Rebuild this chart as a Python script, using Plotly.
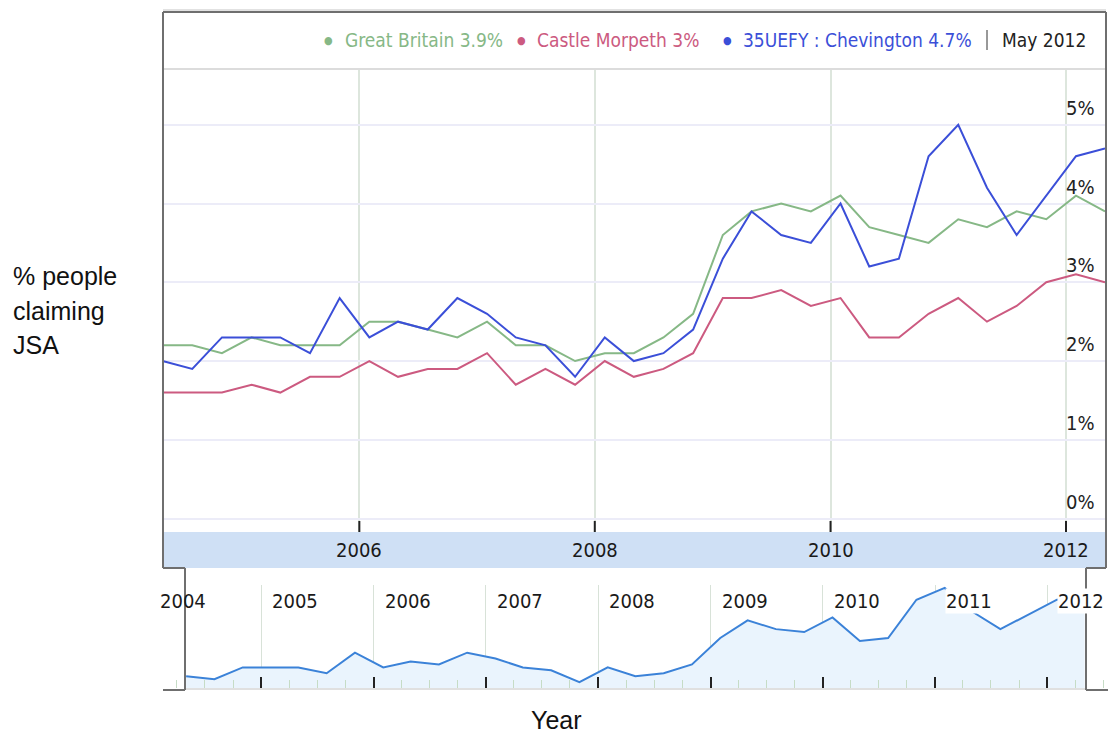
import pandas as pd
import plotly.graph_objects as go

W, H = 1108, 733

# Quarterly observations (Feb / May / Aug / Nov), May 2004 - May 2012
dates = pd.date_range("2004-05-01", "2012-05-01", freq="3MS")

great_britain = [2.2, 2.2, 2.1, 2.3, 2.2, 2.2, 2.2, 2.5, 2.5, 2.4, 2.3, 2.5, 2.2,
                 2.2, 2.0, 2.1, 2.1, 2.3, 2.6, 3.6, 3.9, 4.0, 3.9, 4.1, 3.7, 3.6,
                 3.5, 3.8, 3.7, 3.9, 3.8, 4.1, 3.9]
castle_morpeth = [1.6, 1.6, 1.6, 1.7, 1.6, 1.8, 1.8, 2.0, 1.8, 1.9, 1.9, 2.1, 1.7,
                  1.9, 1.7, 2.0, 1.8, 1.9, 2.1, 2.8, 2.8, 2.9, 2.7, 2.8, 2.3, 2.3,
                  2.6, 2.8, 2.5, 2.7, 3.0, 3.1, 3.0]
chevington = [2.0, 1.9, 2.3, 2.3, 2.3, 2.1, 2.8, 2.3, 2.5, 2.4, 2.8, 2.6, 2.3,
              2.2, 1.8, 2.3, 2.0, 2.1, 2.4, 3.3, 3.9, 3.6, 3.5, 4.0, 3.2, 3.3,
              4.6, 5.0, 4.2, 3.6, 4.1, 4.6, 4.7]

series_names = ["Great Britain", "Castle Morpeth", "35UEFY : Chevington"]
series_values = [great_britain, castle_morpeth, chevington]
series_colors = ["#86b886", "#cc5a80", "#3b4fd8"]

y_ticks = [0, 1, 2, 3, 4, 5]
main_year_ticks = ["2006", "2008", "2010", "2012"]
nav_year_ticks = ["2004", "2005", "2006", "2007", "2008", "2009", "2010", "2011", "2012"]

FONT = "DejaVu Sans Condensed, Liberation Sans Narrow, DejaVu Sans, sans-serif"
NAV_RANGE = ["2004-02-06", "2012-07-16"]


def px(x):
    return x / W


def py(y):
    return 1 - y / H


def nav_frac(d):
    t0, t1 = pd.Timestamp(NAV_RANGE[0]), pd.Timestamp(NAV_RANGE[1])
    return (pd.Timestamp(d) - t0) / (t1 - t0)


fig = go.Figure()

for name, vals, col in zip(series_names, series_values, series_colors):
    fig.add_trace(go.Scatter(x=dates, y=vals, mode="lines", name=name,
                             line=dict(color=col, width=2),
                             xaxis="x", yaxis="y", hoverinfo="skip"))

# overview strip (Chevington only)
fig.add_trace(go.Scatter(x=dates, y=chevington, mode="lines", fill="tozeroy",
                         fillcolor="#eaf4fd", line=dict(color="#3b82d8", width=2),
                         xaxis="x2", yaxis="y2", hoverinfo="skip"))

fig.update_layout(
    width=W, height=H,
    margin=dict(l=0, r=0, t=0, b=0),
    paper_bgcolor="white", plot_bgcolor="white",
    showlegend=False,
    xaxis=dict(domain=[px(162.6), px(1105)], range=["2004-05-01", "2012-05-01"],
               showgrid=True, gridcolor="#dde6dd", gridwidth=2,
               tick0="2006-01-01", dtick="M24", showticklabels=False,
               ticks="", zeroline=False, showline=False, fixedrange=True),
    yaxis=dict(domain=[py(532), py(68)], range=[-0.17, 5.72],
               tickvals=y_ticks, showgrid=True, gridcolor="#ececf8", gridwidth=2,
               showticklabels=False, zeroline=False, showline=False, fixedrange=True),
    xaxis2=dict(domain=[px(160), 1.0], range=NAV_RANGE, anchor="y2",
                showgrid=True, gridcolor="#d8e2d8", gridwidth=1,
                tick0="2004-01-01", dtick="M12", ticks="inside", ticklen=11,
                tickwidth=2, tickcolor="#222", showticklabels=False,
                minor=dict(dtick="M3", ticks="inside", ticklen=8, tickwidth=1,
                           tickcolor="#c6dcc6", showgrid=False),
                zeroline=False, showline=False, fixedrange=True),
    yaxis2=dict(domain=[py(688), py(585)], range=[1.6, 5.1], anchor="x2",
                showgrid=False, showticklabels=False, zeroline=False,
                showline=False, fixedrange=True),
)

FRAME = "#6f6f6f"
shapes = [
    # band holding the year labels
    dict(type="rect", xref="paper", yref="paper", x0=px(163), x1=px(1106),
         y0=py(568), y1=py(532), fillcolor="#cfe0f5", line=dict(width=0)),
    # header separator and shadow
    dict(type="line", xref="paper", yref="paper", x0=px(163), x1=px(1106),
         y0=py(69), y1=py(69), line=dict(color="#dcdcdc", width=2)),
    dict(type="line", xref="paper", yref="paper", x0=px(163), x1=px(1106),
         y0=py(10), y1=py(10), line=dict(color="#e2e2e2", width=2)),
    # overview bottom line
    dict(type="line", xref="paper", yref="paper", x0=px(185), x1=px(1086),
         y0=py(689), y1=py(689), line=dict(color="#e0e0e0", width=2)),
]
frame_segments = [
    ((163, 12), (1106, 12)), ((163, 12), (163, 568)), ((1106, 12), (1106, 568)),
    ((163, 568), (185, 568)), ((185, 568), (185, 690)), ((163, 690), (185, 690)),
    ((1086, 568), (1106, 568)), ((1086, 568), (1086, 690)), ((1086, 690), (1108, 690)),
]
for (xa, ya), (xb, yb) in frame_segments:
    shapes.append(dict(type="line", xref="paper", yref="paper",
                       x0=px(xa), x1=px(xb), y0=py(ya), y1=py(yb),
                       line=dict(color=FRAME, width=2)))
# tick marks above the band
for yr in main_year_ticks:
    shapes.append(dict(type="line", xref="x", yref="paper", x0=f"{yr}-01-01",
                       x1=f"{yr}-01-01", y0=py(532), y1=py(521),
                       line=dict(color="#222", width=2)))
# legend separator bar
shapes.append(dict(type="line", xref="paper", yref="paper", x0=px(987), x1=px(987),
                   y0=py(50), y1=py(30), line=dict(color="#333", width=1)))
fig.update_layout(shapes=shapes)

ann = []
# header legend with latest values
legend_x = [(328, 343), (521, 535), (727, 741)]
for (bx, tx), name, vals, col in zip(legend_x, series_names, series_values, series_colors):
    ann.append(dict(xref="paper", yref="paper", x=px(bx), y=py(40), text="●",
                    showarrow=False, xanchor="center", yanchor="middle",
                    font=dict(family=FONT, size=11, color=col)))
    ann.append(dict(xref="paper", yref="paper", x=px(tx), y=py(40),
                    text=f"{name} {vals[-1]:g}%", showarrow=False,
                    xanchor="left", yanchor="middle",
                    font=dict(family=FONT, size=19, color=col)))
ann.append(dict(xref="paper", yref="paper", x=px(1000), y=py(40),
                text=dates[-1].strftime("%b %Y"), showarrow=False,
                xanchor="left", yanchor="middle",
                font=dict(family=FONT, size=19, color="#222")))

# y tick labels sitting above their grid lines
for v in y_ticks:
    ann.append(dict(xref="paper", yref="y", x=px(1064), y=v, text=f"{v}%",
                    showarrow=False, xanchor="left", yanchor="bottom", yshift=3,
                    font=dict(family=FONT, size=20, color="#222")))

# year labels in the band
for yr in main_year_ticks:
    ann.append(dict(xref="x", yref="paper", x=f"{yr}-01-01", y=py(550), text=yr,
                    showarrow=False, xanchor="center", yanchor="middle",
                    font=dict(family=FONT, size=20, color="#1a1a1a")))

# overview year labels (white backing hides the line beneath)
for yr in nav_year_ticks:
    ann.append(dict(xref="paper", yref="paper",
                    x=px(160) + nav_frac(f"{yr}-01-01") * (1 - px(160)),
                    y=py(601), text=yr, showarrow=False, xanchor="left",
                    yanchor="middle", xshift=10,
                    bgcolor="rgba(0,0,0,0)" if yr == nav_year_ticks[0] else "white",
                    borderpad=0,
                    font=dict(family=FONT, size=20, color="#1a1a1a")))

# axis titles
for txt, yy in [("% people", 276), ("claiming", 311), ("JSA", 345)]:
    ann.append(dict(xref="paper", yref="paper", x=px(11), y=py(yy), text=txt,
                    showarrow=False, xanchor="left", yanchor="middle",
                    font=dict(family="Liberation Sans, Arial, sans-serif",
                              size=25, color="#111")))
ann.append(dict(xref="paper", yref="paper", x=px(556), y=py(720), text="Year",
                showarrow=False, xanchor="center", yanchor="middle",
                font=dict(family="Liberation Sans, Arial, sans-serif",
                          size=25, color="#111")))

fig.update_layout(annotations=ann)

fig.write_html("out.html", config={"displayModeBar": False})
